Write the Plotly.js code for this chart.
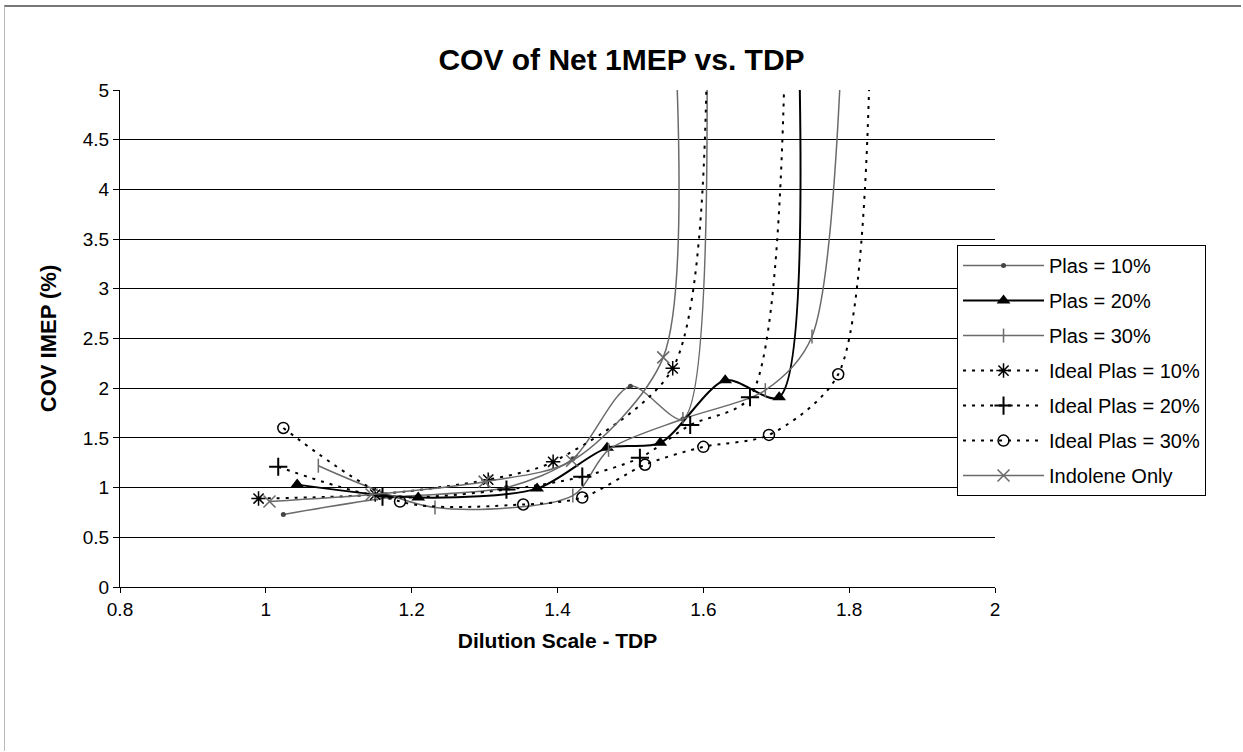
<!DOCTYPE html>
<html>
<head>
<meta charset="utf-8">
<script src="https://cdn.plot.ly/plotly-3.0.1.min.js"></script>
<style>
html,body{margin:0;padding:0;background:#fff;}
#chart{width:1243px;height:752px;}
#frame{position:absolute;left:4px;top:5px;width:1236px;height:744px;border-top:2px solid #777;border-left:1px solid #bbb;pointer-events:none;}
</style>
</head>
<body>
<div id="chart"></div>
<div id="frame"></div>
<script>
// ---- data ----
const seriesNames = ["Plas = 10%", "Plas = 20%", "Plas = 30%", "Ideal Plas = 10%", "Ideal Plas = 20%", "Ideal Plas = 30%", "Indolene Only"];

const plas10X = [1.024, 1.17, 1.33, 1.421, 1.50, 1.572, 1.605];
const plas10Y = [0.73, 0.90, 1.00, 1.29, 2.02, 1.69, 5.4];

const plas20X = [1.043, 1.209, 1.372, 1.468, 1.541, 1.630, 1.704, 1.731];
const plas20Y = [1.03, 0.90, 0.99, 1.40, 1.45, 2.08, 1.91, 5.5];

const plas30X = [1.072, 1.232, 1.421, 1.47, 1.572, 1.685, 1.749, 1.80];
const plas30Y = [1.22, 0.80, 0.92, 1.38, 1.69, 1.98, 2.52, 8.0];

const ideal10X = [0.99, 1.15, 1.305, 1.394, 1.558, 1.605];
const ideal10Y = [0.89, 0.93, 1.08, 1.26, 2.20, 5.4];

const ideal20X = [1.017, 1.16, 1.33, 1.434, 1.513, 1.582, 1.664, 1.712];
const ideal20Y = [1.21, 0.91, 0.98, 1.11, 1.30, 1.63, 1.91, 5.4];

const ideal30X = [1.024, 1.184, 1.353, 1.434, 1.52, 1.60, 1.69, 1.785, 1.829];
const ideal30Y = [1.60, 0.86, 0.83, 0.90, 1.23, 1.41, 1.53, 2.14, 5.5];

const indoleneX = [1.005, 1.145, 1.30, 1.42, 1.545, 1.561];
const indoleneY = [0.86, 0.93, 1.06, 1.27, 2.31, 5.6];

const xTickVals = [0.8, 1, 1.2, 1.4, 1.6, 1.8, 2];
const yTickVals = [0, 0.5, 1, 1.5, 2, 2.5, 3, 3.5, 4, 4.5, 5];

// ---- styles ----
const gray = "#6a6a6a";
const dashPat = "3px,6px";

function tr(i, x, y, line, marker) {
  return {type: "scatter", mode: "lines+markers", name: seriesNames[i], legendgroup: "g" + i,
          x: x, y: y,
          line: Object.assign({shape: "spline", smoothing: 0.8}, line),
          marker: marker, cliponaxis: true};
}

const data = [
  tr(0, plas10X, plas10Y, {color: gray, width: 1.5},
     {symbol: "circle", size: 5, color: "#444"}),
  tr(1, plas20X, plas20Y, {color: "#000", width: 2},
     {symbol: "triangle-up", size: 12, color: "#000"}),
  tr(2, plas30X, plas30Y, {color: gray, width: 1.5},
     {symbol: "line-ns", size: 10, line: {color: gray, width: 1.5}}),
  tr(3, ideal10X, ideal10Y, {color: "#000", width: 2, dash: dashPat},
     {symbol: "asterisk-open", size: 12, line: {color: "#222", width: 1.5}}),
  tr(4, ideal20X, ideal20Y, {color: "#000", width: 2, dash: dashPat},
     {symbol: "cross-thin-open", size: 13, line: {color: "#000", width: 2}}),
  tr(5, ideal30X, ideal30Y, {color: "#000", width: 2, dash: dashPat},
     {symbol: "circle-open", size: 11, line: {color: "#000", width: 1.5}}),
  tr(6, indoleneX, indoleneY, {color: gray, width: 1.5},
     {symbol: "x-thin-open", size: 12, line: {color: gray, width: 1.5}})
];

const font = "Liberation Sans, Arial, sans-serif";

const layout = {
  width: 1243, height: 752,
  paper_bgcolor: "#fff", plot_bgcolor: "#fff",
  margin: {l: 120, r: 248, t: 90, b: 165},
  font: {family: font, size: 19, color: "#000"},
  title: {text: "<b>COV of Net 1MEP vs. TDP</b>", x: 0.5, xref: "container",
          y: 0.921, yref: "container", yanchor: "middle",
          font: {family: font, size: 30, color: "#000"}},
  xaxis: {range: [0.8, 2], tickvals: xTickVals, ticktext: xTickVals.map(String),
          showgrid: false, zeroline: false, showline: true, linecolor: "#000", linewidth: 1,
          ticks: "outside", ticklen: 5, tickcolor: "#000",
          tickfont: {family: font, size: 19},
          title: {text: "<b>Dilution Scale - TDP</b>", font: {family: font, size: 21}, standoff: 14}},
  yaxis: {range: [0, 5], tickvals: yTickVals, ticktext: yTickVals.map(String),
          showgrid: true, gridcolor: "#000", gridwidth: 1, zeroline: false,
          showline: true, linecolor: "#000", linewidth: 1,
          ticks: "outside", ticklen: 6, tickcolor: "#000",
          tickfont: {family: font, size: 19},
          title: {text: "<b>COV IMEP (%)</b>", font: {family: font, size: 22}, standoff: 20}},
  showlegend: true,
  legend: {x: 0.9566, xanchor: "left", y: 0.688, yanchor: "top",
           bgcolor: "#fff", bordercolor: "#000", borderwidth: 1, traceorder: "grouped",
           font: {family: font, size: 20}, itemwidth: 81, tracegroupgap: 6}
};

Plotly.newPlot("chart", data, layout, {displayModeBar: false, staticPlot: true});
</script>
</body>
</html>
